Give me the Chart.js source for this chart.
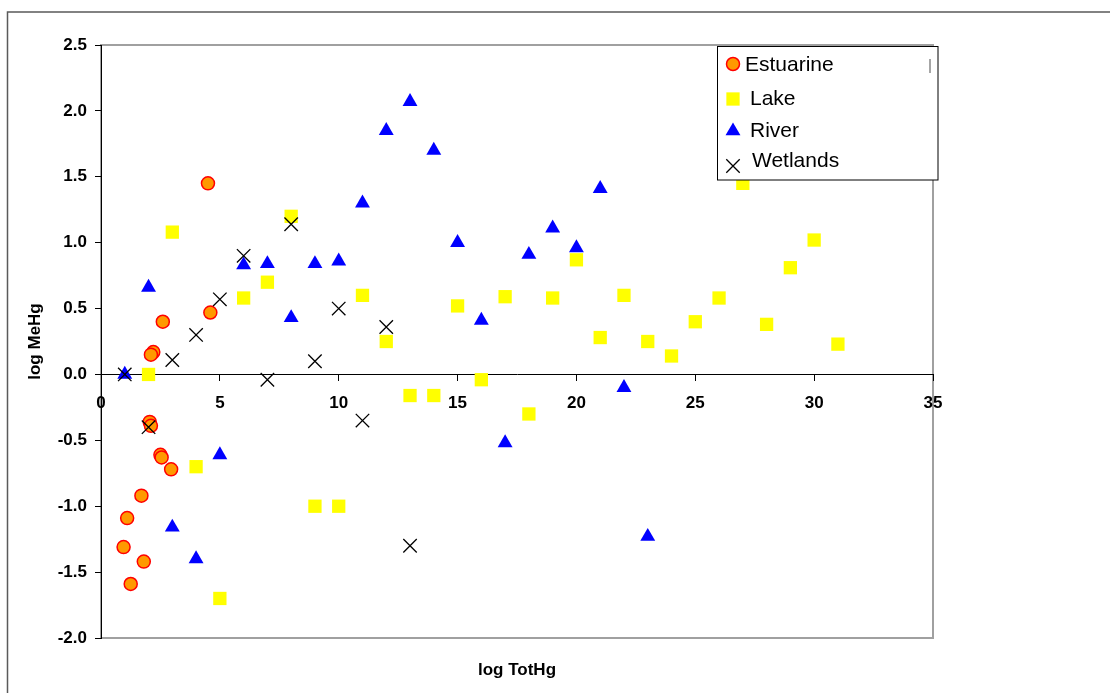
<!DOCTYPE html>
<html><head><meta charset="utf-8">
<script src="https://cdn.jsdelivr.net/npm/chart.js@4/dist/chart.umd.min.js"></script>
<style>html,body{margin:0;padding:0;background:#fff;} #wrap{width:1110px;height:693px;position:relative;}</style>
</head><body><div id="wrap"><canvas id="c" width="1110" height="693"></canvas></div>
<script>
// ---- data ----
const seriesNames = ['Estuarine', 'Lake', 'River', 'Wetlands'];
const estuarineX = [4.5, 4.6, 2.6, 2.2, 2.1, 2.05, 2.1, 2.5, 2.55, 2.95, 1.7, 1.1, 0.95, 1.8, 1.25];
const estuarineY = [1.45, 0.47, 0.40, 0.17, 0.15, -0.36, -0.39, -0.61, -0.63, -0.72, -0.92, -1.09, -1.31, -1.42, -1.59];
const lakeX = [2, 3, 4, 5, 6, 7, 8, 9, 10, 11, 12, 13, 14, 15, 16, 17, 18, 19, 20, 21, 22, 23, 24, 25, 26, 27, 28, 29, 30, 31];
const lakeY = [0.0, 1.08, -0.70, -1.70, 0.58, 0.70, 1.20, -1.00, -1.00, 0.60, 0.25, -0.16, -0.16, 0.52, -0.04, 0.59, -0.30, 0.58, 0.87, 0.28, 0.60, 0.25, 0.14, 0.40, 0.58, 1.45, 0.38, 0.81, 1.02, 0.23];
const riverX = [1, 2, 3, 4, 5, 6, 7, 8, 9, 10, 11, 12, 13, 14, 15, 16, 17, 18, 19, 20, 21, 22, 23];
const riverY = [0.0, 0.66, -1.16, -1.40, -0.61, 0.83, 0.84, 0.43, 0.84, 0.86, 1.30, 1.85, 2.07, 1.70, 1.00, 0.41, -0.52, 0.91, 1.11, 0.96, 1.41, -0.10, -1.23];
const wetlandsX = [1, 2, 3, 4, 5, 6, 7, 8, 9, 10, 11, 12, 13];
const wetlandsY = [0.0, -0.40, 0.11, 0.30, 0.57, 0.90, -0.04, 1.14, 0.10, 0.50, -0.35, 0.36, -1.30];
const xTicks = [0, 5, 10, 15, 20, 25, 30, 35];
const yTicks = [-2.0, -1.5, -1.0, -0.5, 0.0, 0.5, 1.0, 1.5, 2.0, 2.5];
const xTitle = 'log TotHg';
const yTitle = 'log MeHg';

const pts = (xs, ys) => xs.map((x, i) => ({x: x, y: ys[i]}));

const styles = [
  {pointStyle: 'circle', pointRadius: 6.5, backgroundColor: '#FF9900', borderColor: '#FF0000', borderWidth: 1.5, order: 4},
  {pointStyle: 'rect', pointRadius: 9.4, backgroundColor: '#FFFF00', borderColor: '#FFFF00', borderWidth: 0, order: 3},
  {pointStyle: 'triangle', pointRadius: 8.6, backgroundColor: '#0000FF', borderColor: '#0000FF', borderWidth: 0, order: 2},
  {pointStyle: 'crossRot', pointRadius: 9.5, backgroundColor: '#000000', borderColor: '#000000', borderWidth: 1.3, order: 1}
];
const seriesData = [pts(estuarineX, estuarineY), pts(lakeX, lakeY), pts(riverX, riverY), pts(wetlandsX, wetlandsY)];

const datasets = seriesNames.map((n, i) => Object.assign({label: n, data: seriesData[i], showLine: false}, styles[i]));

function drawMarker(ctx, st, x, y) {
  ctx.save();
  ctx.fillStyle = st.backgroundColor;
  ctx.strokeStyle = st.borderColor;
  ctx.lineWidth = st.borderWidth;
  const opts = {pointStyle: st.pointStyle, radius: st.pointRadius, rotation: 0, borderWidth: st.borderWidth};
  if (Chart.helpers && Chart.helpers.drawPoint) {
    Chart.helpers.drawPoint(ctx, opts, x, y);
  }
  ctx.restore();
}

const decor = {
  id: 'decor',
  beforeDraw(chart) {
    const ctx = chart.ctx, a = chart.chartArea;
    ctx.save();
    ctx.fillStyle = '#fff';
    ctx.fillRect(0, 0, chart.width, chart.height);
    // outer frame
    ctx.strokeStyle = '#5a5a5a';
    ctx.lineWidth = 1.5;
    ctx.beginPath();
    ctx.moveTo(7.5, chart.height);
    ctx.lineTo(7.5, 12);
    ctx.lineTo(chart.width, 12);
    ctx.stroke();
    // plot area frame
    ctx.strokeStyle = '#a0a0a0';
    ctx.lineWidth = 2;
    ctx.strokeRect(a.left, a.top, a.right - a.left, a.bottom - a.top);
    ctx.restore();
  },
  afterDraw(chart) {
    const ctx = chart.ctx, a = chart.chartArea;
    ctx.save();
    // axis titles
    ctx.fillStyle = '#000';
    ctx.font = 'bold 17px "Liberation Sans", Arial, sans-serif';
    ctx.textAlign = 'center';
    ctx.textBaseline = 'middle';
    ctx.fillText(xTitle, (a.left + a.right) / 2, 670);
    ctx.save();
    ctx.translate(35, (a.top + a.bottom) / 2);
    ctx.rotate(-Math.PI / 2);
    ctx.fillText(yTitle, 0, 0);
    ctx.restore();
    // legend
    const lx = 717.5, ly = 46.5, lw = 220.5, lh = 133.5;
    ctx.fillStyle = '#fff';
    ctx.fillRect(lx, ly, lw, lh);
    ctx.strokeStyle = '#000';
    ctx.lineWidth = 1;
    ctx.strokeRect(lx, ly, lw, lh);
    ctx.strokeStyle = '#888';
    ctx.lineWidth = 1.5;
    ctx.beginPath(); ctx.moveTo(930, 59); ctx.lineTo(930, 73); ctx.stroke();
    const markerY = [64, 99, 131, 166];
    const textX = [745, 750, 750, 752];
    const textY = [71, 105, 136.5, 167];
    ctx.font = '21px "Liberation Sans", Arial, sans-serif';
    ctx.textAlign = 'left';
    ctx.textBaseline = 'alphabetic';
    for (let i = 0; i < seriesNames.length; i++) {
      drawMarker(ctx, styles[i], 733, markerY[i]);
      ctx.fillStyle = '#000';
      ctx.fillText(seriesNames[i], textX[i], textY[i]);
    }
    ctx.restore();
  }
};

const tickFont = {family: '"Liberation Sans", Arial, sans-serif', size: 17, weight: 'bold'};

new Chart(document.getElementById('c'), {
  type: 'scatter',
  data: {datasets: datasets},
  options: {
    responsive: false,
    animation: false,
    events: [],
    devicePixelRatio: 1,
    layout: {padding: {left: 0, top: 45, right: 177, bottom: 55}},
    plugins: {legend: {display: false}, tooltip: {enabled: false}, title: {display: false}},
    scales: {
      x: {
        type: 'linear',
        position: {y: 0},
        min: 0, max: 35,
        afterFit: s => { s.height = 0; },
        afterBuildTicks: s => { s.ticks = xTicks.map(v => ({value: v})); },
        grid: {drawOnChartArea: false, drawTicks: true, tickLength: 6, color: '#000', lineWidth: 1},
        border: {display: true, color: '#000', width: 1},
        ticks: {color: '#000', font: tickFont, padding: 13, autoSkip: false, maxRotation: 0, callback: v => String(v)}
      },
      y: {
        type: 'linear',
        position: 'left',
        min: -2, max: 2.5,
        afterFit: s => { s.width = 101; },
        afterBuildTicks: s => { s.ticks = yTicks.map(v => ({value: v})); },
        grid: {drawOnChartArea: false, drawTicks: true, tickLength: 6, color: '#000', lineWidth: 1},
        border: {display: true, color: '#000', width: 1},
        ticks: {color: '#000', font: tickFont, padding: 8, autoSkip: false, callback: v => Number(v).toFixed(1)}
      }
    }
  },
  plugins: [decor]
});
</script>
</body></html>
